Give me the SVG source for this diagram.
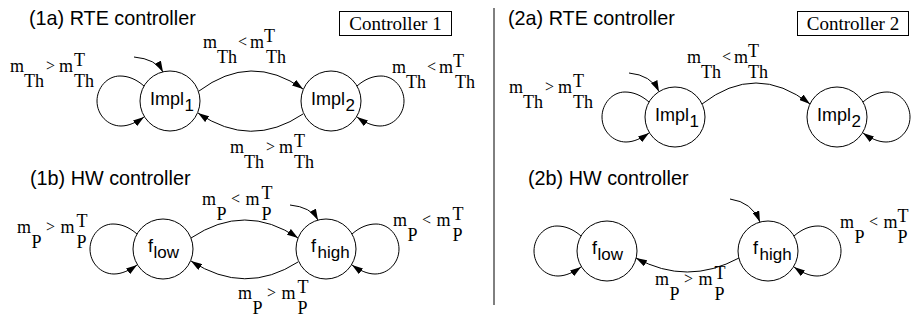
<svg xmlns="http://www.w3.org/2000/svg" width="912" height="320" viewBox="0 0 912 320">
<style>
.t{font-family:"Liberation Sans",Arial,sans-serif;font-size:19.8px;fill:#000}
.nl{font-family:"Liberation Sans",Arial,sans-serif;font-size:18px;fill:#000}
.ns{font-family:"Liberation Sans",Arial,sans-serif;font-size:17px;fill:#000}
.ctl{font-family:"Liberation Serif","Times New Roman",serif;font-size:19px;fill:#000}
.m{font-family:"Liberation Serif","Times New Roman",serif;font-size:18px;fill:#000}
.c{font-family:"Liberation Serif","Times New Roman",serif;font-size:16px;fill:#000}
.node{fill:#fff;stroke:#000;stroke-width:1}
.e{fill:none;stroke:#000;stroke-width:1;marker-end:url(#ah)}
.box{fill:#fff;stroke:#000;stroke-width:1}
</style>
<defs>
<marker id="ah" markerWidth="11" markerHeight="7" refX="11" refY="3.5" orient="auto" markerUnits="userSpaceOnUse"><path d="M0,0 L11,3.5 L0,7 z" fill="#000"/></marker>
<path id="loopL" d="M-26,-15 C-34,-22 -42,-25 -50,-25 C-63,-25 -73,-13 -73,0 C-73,14 -62,25 -49,25 C-41,25 -33,21 -26,16"/>
</defs>
<rect width="912" height="320" fill="#fff"/>

<g id="titles">
<text class="t" x="29" y="25">(1a) RTE controller</text>
<text class="t" x="30" y="185">(1b) HW controller</text>
<text class="t" x="508" y="25">(2a) RTE controller</text>
<text class="t" x="528" y="185">(2b) HW controller</text>
<line x1="494" y1="8" x2="494" y2="305" stroke="#000" stroke-width="1"/>
</g>

<g id="controller1-box">
<rect class="box" x="339.5" y="11.5" width="112" height="24"/>
<text class="ctl" x="395.5" y="30" text-anchor="middle">Controller 1</text>
</g>
<g id="controller2-box">
<rect class="box" x="797.5" y="11.5" width="111" height="24"/>
<text class="ctl" x="853" y="30" text-anchor="middle">Controller 2</text>
</g>

<g id="connectors">
<!-- 1a -->
<path class="e" d="M134,57 Q156,59 163,72"/>
<use href="#loopL" class="e" transform="translate(170,101)"/>
<use href="#loopL" class="e" transform="translate(331,101) scale(-1,1)"/>
<path class="e" d="M199,91 Q251,52 303,89"/>
<path class="e" d="M303,114 Q251,149 198,113"/>
<!-- 1b -->
<path class="e" d="M290,205 Q311,207 318,220"/>
<use href="#loopL" class="e" transform="translate(163,249)"/>
<use href="#loopL" class="e" transform="translate(326,249) scale(-1,1)"/>
<path class="e" d="M191,238 Q245,202 298,238"/>
<path class="e" d="M298,262 Q245,296 191,261"/>
<!-- 2a -->
<path class="e" d="M629,73 Q651,75 659,91.5"/>
<use href="#loopL" class="e" transform="translate(675,117)"/>
<use href="#loopL" class="e" transform="translate(837,117) scale(-1,1)"/>
<path class="e" d="M702,104 Q756,62 810,104"/>
<!-- 2b -->
<path class="e" d="M730,199 Q752,202 760,222"/>
<use href="#loopL" class="e" transform="translate(607,251)"/>
<use href="#loopL" class="e" transform="translate(768,251) scale(-1,1)"/>
<path class="e" d="M739,258 Q687,286 636,258"/>
</g>

<g id="edge-labels">
<g transform="translate(10,72)"><text class="m" x="0" y="0">m</text><text class="m" x="14" y="15">Th</text><text class="c" x="36" y="-1">&gt;</text><text class="m" x="49" y="0">m</text><text class="m" x="64" y="-6">T</text><text class="m" x="64" y="15">Th</text></g>
<g transform="translate(203,48)"><text class="m" x="0" y="0">m</text><text class="m" x="14" y="15">Th</text><text class="c" x="35" y="-1">&lt;</text><text class="m" x="47" y="0">m</text><text class="m" x="61" y="-6">T</text><text class="m" x="63" y="15">Th</text></g>
<g transform="translate(392,73)"><text class="m" x="0" y="0">m</text><text class="m" x="14" y="15">Th</text><text class="c" x="35" y="-1">&lt;</text><text class="m" x="47" y="0">m</text><text class="m" x="61" y="-6">T</text><text class="m" x="63" y="15">Th</text></g>
<g transform="translate(230,153)"><text class="m" x="0" y="0">m</text><text class="m" x="14" y="15">Th</text><text class="c" x="36" y="-1">&gt;</text><text class="m" x="49" y="0">m</text><text class="m" x="64" y="-6">T</text><text class="m" x="64" y="15">Th</text></g>
<g transform="translate(17,233)"><text class="m" x="0" y="0">m</text><text class="m" x="14.5" y="15">P</text><text class="c" x="29" y="-1">&gt;</text><text class="m" x="43.5" y="0">m</text><text class="m" x="59.5" y="-6">T</text><text class="m" x="59.5" y="15">P</text></g>
<g transform="translate(202,205)"><text class="m" x="0" y="0">m</text><text class="m" x="14.5" y="15">P</text><text class="c" x="29" y="-1">&lt;</text><text class="m" x="43.5" y="0">m</text><text class="m" x="59.5" y="-6">T</text><text class="m" x="59.5" y="15">P</text></g>
<g transform="translate(393,226)"><text class="m" x="0" y="0">m</text><text class="m" x="14.5" y="15">P</text><text class="c" x="29" y="-1">&lt;</text><text class="m" x="43.5" y="0">m</text><text class="m" x="59.5" y="-6">T</text><text class="m" x="59.5" y="15">P</text></g>
<g transform="translate(238,299)"><text class="m" x="0" y="0">m</text><text class="m" x="14.5" y="15">P</text><text class="c" x="29" y="-1">&gt;</text><text class="m" x="43.5" y="0">m</text><text class="m" x="59.5" y="-6">T</text><text class="m" x="59.5" y="15">P</text></g>
<g transform="translate(509,93)"><text class="m" x="0" y="0">m</text><text class="m" x="14" y="15">Th</text><text class="c" x="36" y="-1">&gt;</text><text class="m" x="49" y="0">m</text><text class="m" x="64" y="-6">T</text><text class="m" x="64" y="15">Th</text></g>
<g transform="translate(687,63)"><text class="m" x="0" y="0">m</text><text class="m" x="14" y="15">Th</text><text class="c" x="35" y="-1">&lt;</text><text class="m" x="47" y="0">m</text><text class="m" x="61" y="-6">T</text><text class="m" x="61" y="15">Th</text></g>
<g transform="translate(655,285)"><text class="m" x="0" y="0">m</text><text class="m" x="14.5" y="15">P</text><text class="c" x="29" y="-1">&gt;</text><text class="m" x="43.5" y="0">m</text><text class="m" x="59.5" y="-6">T</text><text class="m" x="59.5" y="15">P</text></g>
<g transform="translate(840,228)"><text class="m" x="0" y="0">m</text><text class="m" x="14.5" y="15">P</text><text class="c" x="29" y="-1">&lt;</text><text class="m" x="43.5" y="0">m</text><text class="m" x="57.5" y="-6">T</text><text class="m" x="57.5" y="15">P</text></g>
</g>

<g id="n1a-impl1"><circle class="node" cx="170" cy="101" r="30"/><text class="nl" x="150" y="105">Impl</text><text class="ns" x="184.5" y="111">1</text></g>
<g id="n1a-impl2"><circle class="node" cx="331" cy="101" r="30"/><text class="nl" x="311" y="105">Impl</text><text class="ns" x="345.5" y="111">2</text></g>
<g id="n1b-flow"><circle class="node" cx="163" cy="249" r="30"/><text class="nl" x="148" y="252">f</text><text class="ns" x="153.5" y="258">low</text></g>
<g id="n1b-fhigh"><circle class="node" cx="326" cy="249" r="30"/><text class="nl" x="311" y="252">f</text><text class="ns" x="317.5" y="258">high</text></g>
<g id="n2a-impl1"><circle class="node" cx="675" cy="117" r="30"/><text class="nl" x="655" y="121">Impl</text><text class="ns" x="689.5" y="127">1</text></g>
<g id="n2a-impl2"><circle class="node" cx="837" cy="117" r="30"/><text class="nl" x="817" y="121">Impl</text><text class="ns" x="851.5" y="127">2</text></g>
<g id="n2b-flow"><circle class="node" cx="607" cy="251" r="30"/><text class="nl" x="592" y="254">f</text><text class="ns" x="597.5" y="260">low</text></g>
<g id="n2b-fhigh"><circle class="node" cx="768" cy="251" r="30"/><text class="nl" x="753" y="254">f</text><text class="ns" x="759.5" y="260">high</text></g>
</svg>
